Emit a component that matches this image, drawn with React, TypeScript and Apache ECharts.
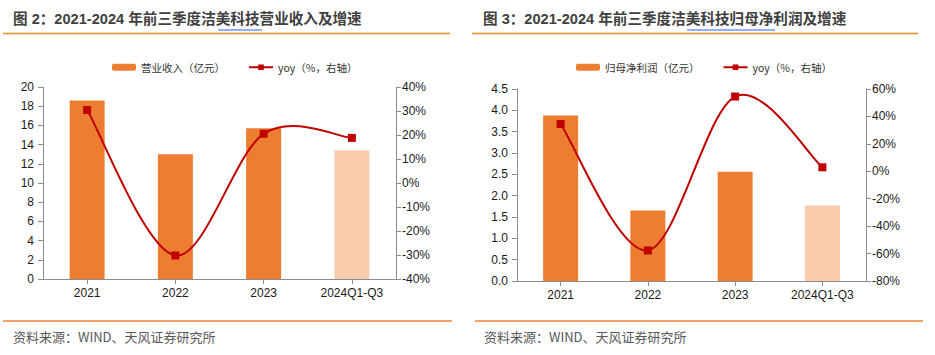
import React, { useEffect, useRef } from "react";
import * as echarts from "echarts";

const categories = ["2021", "2022", "2023", "2024Q1-Q3"];
const revenue = [18.6, 13.0, 15.7, 13.4];
const revenueYoy = [30.4, -30.2, 20.5, 18.8];
const profit = [3.88, 1.65, 2.56, 1.77];
const profitYoy = [34.5, -57.7, 54.5, 2.9];

const title1 = "图 2：2021-2024 年前三季度洁美科技营业收入及增速";
const title2 = "图 3：2021-2024 年前三季度洁美科技归母净利润及增速";
const source = "资料来源：WIND、天风证券研究所";
const barName1 = "营业收入（亿元）";
const barName2 = "归母净利润（亿元）";
const lineName = "yoy（%，右轴）";

const BAR = "#ED7D31";
const BAR_LIGHT = "#F8CBAD";
const LINE = "#C00000";
const AXIS = "#8C8C8C";
const LABEL = "#1A1A1A";
const FONT = "Liberation Sans, Arial, Noto Sans CJK SC, sans-serif";

function barData(vals: number[]) {
  return vals.map((v, i) =>
    i === vals.length - 1 ? { value: v, itemStyle: { color: BAR_LIGHT } } : v
  );
}

export default function App() {
  const ref = useRef<HTMLDivElement>(null);
  useEffect(() => {
    if (!ref.current) return;
    const chart = echarts.init(ref.current, null, { renderer: "svg" });
    const labelStyle = { color: LABEL, fontSize: 12, fontFamily: FONT };
    const xAxisBase = (gridIndex: number) => ({
      type: "category" as const,
      gridIndex,
      data: categories,
      boundaryGap: true,
      axisLine: { show: true, lineStyle: { color: AXIS, width: 1 } },
      axisTick: { show: true, alignWithLabel: true, length: 5, lineStyle: { color: AXIS } },
      axisLabel: { ...labelStyle, margin: 8 },
      splitLine: { show: false },
    });
    const yLeft = (gridIndex: number, max: number, interval: number, digits: number) => ({
      type: "value" as const,
      gridIndex,
      position: "left" as const,
      min: 0,
      max,
      interval,
      axisLine: { show: true, lineStyle: { color: AXIS } },
      axisTick: { show: true, length: 5, lineStyle: { color: AXIS } },
      axisLabel: {
        ...labelStyle,
        margin: 9,
        formatter: (v: number) => (digits ? v.toFixed(digits) : String(v)),
      },
      splitLine: { show: false },
    });
    const yRight = (gridIndex: number, min: number, max: number, interval: number) => ({
      type: "value" as const,
      gridIndex,
      position: "right" as const,
      min,
      max,
      interval,
      axisLine: { show: true, lineStyle: { color: AXIS } },
      axisTick: { show: true, length: 5, lineStyle: { color: AXIS } },
      axisLabel: { ...labelStyle, margin: 6, formatter: "{value}%" },
      splitLine: { show: false },
    });
    const legendBase = {
      orient: "horizontal" as const,
      top: 57,
      itemWidth: 24,
      itemHeight: 7,
      itemGap: 23,
      textStyle: { color: "#333", fontSize: 10.5, fontFamily: "Noto Sans CJK SC, sans-serif" },
    };
    const lineLegend = {
      name: lineName,
      lineStyle: { color: LINE, width: 2, opacity: 1 },
      itemStyle: { color: LINE },
    };
    // markers (line stroke hidden; curve drawn by the custom series below)
    const lineSeries = (idx: number, data: number[]) => ({
      type: "line" as const,
      name: lineName,
      xAxisIndex: idx,
      yAxisIndex: idx * 2 + 1,
      data,
      symbol: "rect",
      symbolSize: 8,
      lineStyle: { color: LINE, width: 2, opacity: 0 },
      itemStyle: { color: LINE },
      z: 6,
    });
    // Excel-like smooth curve through the data, positioned via the axes' scales
    const curveSeries = (idx: number, data: number[]) => ({
      type: "custom" as const,
      coordinateSystem: "cartesian2d",
      xAxisIndex: idx,
      yAxisIndex: idx * 2 + 1,
      data: data.map((v, i) => [i, v]),
      z: 5,
      silent: true,
      clip: false,
      renderItem: (params: any, api: any) => {
        const i = params.dataIndex;
        const n = data.length;
        if (i >= n - 1) return null;
        const pt = (j: number) => {
          const k = Math.max(0, Math.min(n - 1, j));
          return api.coord([k, data[k]]);
        };
        const p0 = pt(i - 1);
        const p1 = pt(i);
        const p2 = pt(i + 1);
        const p3 = pt(i + 2);
        const t = 1 / 6;
        return {
          type: "bezierCurve",
          shape: {
            x1: p1[0],
            y1: p1[1],
            x2: p2[0],
            y2: p2[1],
            cpx1: p1[0] + (p2[0] - p0[0]) * t,
            cpy1: p1[1] + (p2[1] - p0[1]) * t,
            cpx2: p2[0] - (p3[0] - p1[0]) * t,
            cpy2: p2[1] - (p3[1] - p1[1]) * t,
          },
          style: { stroke: LINE, lineWidth: 2, fill: "none" },
        };
      },
    });
    const barSeries = (idx: number, name: string, data: number[]) => ({
      type: "bar" as const,
      name,
      xAxisIndex: idx,
      yAxisIndex: idx * 2,
      data: barData(data),
      barWidth: 35,
      itemStyle: { color: BAR },
      z: 2,
    });
    const titleText = (x: number, text: string) => ({
      type: "text" as const,
      left: x,
      top: 12,
      style: {
        text,
        fill: "#404040",
        fontSize: 14.6,
        fontWeight: "bold",
        fontFamily: FONT,
      },
    });
    const hline = (x1: number, x2: number, y: number, color: string, w: number) => ({
      type: "line" as const,
      shape: { x1, y1: y, x2, y2: y },
      style: { stroke: color, lineWidth: w },
    });
    const footer = (x: number) => ({
      type: "text" as const,
      left: x,
      top: 330,
      style: {
        text: source,
        fill: "#595959",
        fontSize: 13,
        fontFamily: "Noto Sans CJK SC, sans-serif",
      },
    });

    chart.setOption({
      animation: false,
      backgroundColor: "#fff",
      grid: [
        { left: 43, right: 539, top: 87, bottom: 76 },
        { left: 517, right: 69, top: 89, bottom: 74 },
      ],
      legend: [
        { ...legendBase, left: 107, data: [barName1, lineLegend] },
        { ...legendBase, left: 571, data: [barName2, lineLegend] },
      ],
      xAxis: [xAxisBase(0), xAxisBase(1)],
      yAxis: [
        yLeft(0, 20, 2, 0),
        yRight(0, -40, 40, 10),
        yLeft(1, 4.5, 0.5, 1),
        yRight(1, -80, 60, 20),
      ],
      series: [
        barSeries(0, barName1, revenue),
        curveSeries(0, revenueYoy),
        lineSeries(0, revenueYoy),
        barSeries(1, barName2, profit),
        curveSeries(1, profitYoy),
        lineSeries(1, profitYoy),
      ],
      graphic: [
        titleText(13, title1),
        titleText(483, title2),
        hline(3, 450, 33.5, "#F08A24", 1.5),
        hline(472, 918, 33.5, "#F08A24", 1.5),
        hline(218, 262, 30, "#2563EB", 1),
        hline(687, 775, 30, "#2563EB", 1),
        hline(3, 452, 321, "#E8853A", 1.5),
        hline(475, 923, 321, "#E8853A", 1.5),
        footer(13),
        footer(484),
      ],
    });
    return () => chart.dispose();
  }, []);
  return (
    <div
      ref={ref}
      style={{ position: "fixed", left: 0, top: 0, width: 935, height: 355 }}
    />
  );
}
